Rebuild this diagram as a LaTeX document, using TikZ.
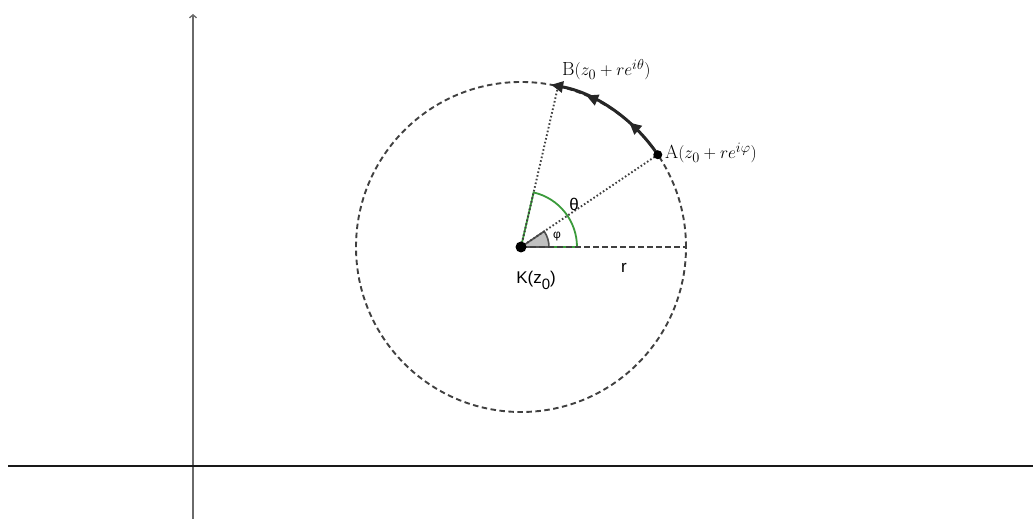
\documentclass[tikz,border=0pt]{standalone}
\usepackage{fontspec}
\setsansfont{Liberation Sans}
\usetikzlibrary{arrows.meta,decorations.markings}
\definecolor{circgray}{HTML}{404040}
\definecolor{axisgray}{HTML}{6A6A6A}
\definecolor{anggreen}{HTML}{3A9A3A}
\definecolor{sectgray}{HTML}{C0C0C0}
\definecolor{sectedge}{HTML}{505050}
\begin{document}
\begin{tikzpicture}[x=1pt,y=1pt,
  circ/.style={draw=circgray, line width=1.9pt, dash pattern=on 5.5pt off 3.5pt},
  ray/.style={draw=circgray, line width=1.9pt, dash pattern=on 1.6pt off 2.2pt},
  arcline/.style={draw=black!85, line width=3pt},
  dotnode/.style={circle, fill=black, inner sep=0pt, minimum size=#1},
  sflabel/.style={font=\sffamily\fontsize{17}{19}\selectfont, inner sep=0pt},
  mlabel/.style={font=\fontsize{19}{21}\selectfont, inner sep=0pt, anchor=west},
  midarrow/.style={decoration={markings,
      mark=at position 0.33 with {\arrow{Triangle[length=12pt,width=11pt]}},
      mark=at position 0.72 with {\arrow{Triangle[length=12pt,width=11pt]}}},
      postaction={decorate}}
]
\useasboundingbox (0,0) rectangle (1033,519);
% axes
\coordinate (xl) at (8,53);
\coordinate (xr) at (1033,53);
\coordinate (yb) at (193,0);
\coordinate (yt) at (193,505);
\draw[axisgray, line width=1.3pt, -{Straight Barb[length=3pt,width=7pt]}] (yb) -- (yt);
\draw[black!90, line width=1.5pt] (xl) -- (xr);
% geometry
\coordinate (K) at (521,272);
\path (K) ++(34:165) coordinate (A);
\path (K) ++(77:165) coordinate (B);
\path (K) ++(0:165) coordinate (R);
% theta angle (green)
\draw[anggreen, line width=1.8pt] (K) -- ++(0:56) arc[start angle=0, end angle=77, radius=56] -- cycle;
% phi sector
\filldraw[fill=sectgray, draw=sectedge, line width=1.6pt] (K) -- ++(0:28) arc[start angle=0, end angle=34, radius=28] -- cycle;
% circle and rays
\draw[circ] (K) circle (165);
\draw[circ] (K) -- (R);
\draw[ray] (K) -- (A);
\draw[ray] (K) -- (B);
% oriented arc from A to B
\draw[arcline, midarrow, -{Triangle[length=12pt,width=11pt]}] (A) arc[start angle=34, end angle=79.5, radius=165];
% points
\node[dotnode=11pt] (Kd) at (K) {};
\node[dotnode=9pt] (Ad) at (A) {};
% labels
\node[mlabel] (Bl) at (562,449) {B$(z_0+re^{i\theta})$};
\node[mlabel] (Al) at (665,366) {A$(z_0+re^{i\varphi})$};
\node[sflabel] (Kl) at (536,239) {K(z\raisebox{-0.35em}{\fontsize{15}{16}\selectfont 0})};
\node[sflabel] (th) at (574,315) {θ};
\node[sflabel, font=\sffamily\fontsize{12}{14}\selectfont] (ph) at (557,282) {φ};
\node[sflabel] (rl) at (624,251) {r};
\end{tikzpicture}
\end{document}
